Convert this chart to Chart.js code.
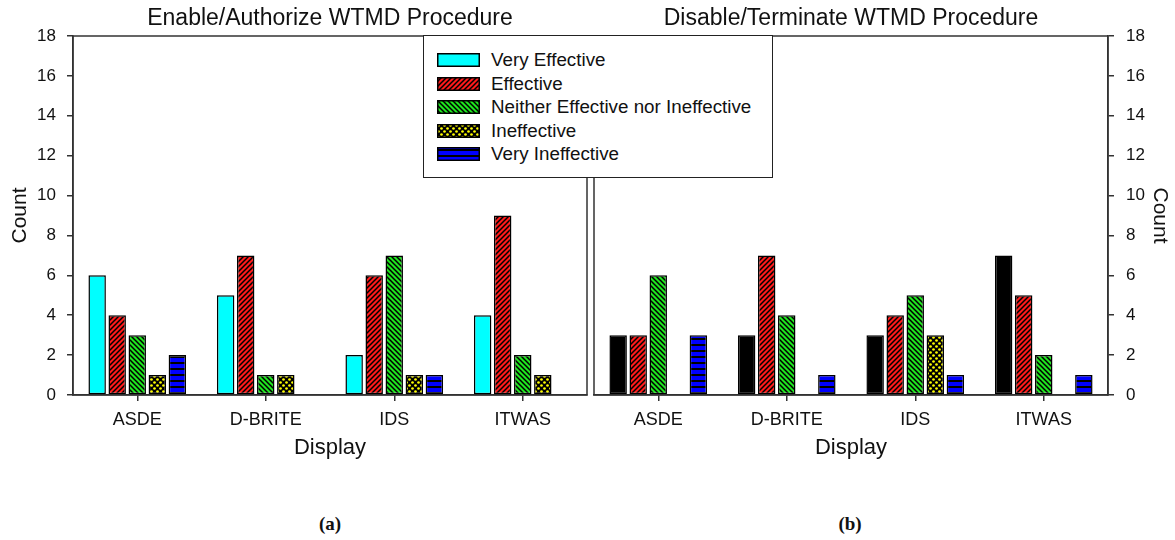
<!DOCTYPE html>
<html>
<head>
<meta charset="utf-8">
<script src="https://cdn.jsdelivr.net/npm/chart.js@4.4.0/dist/chart.umd.min.js"></script>
<style>
  body { margin: 0; background: #fff; width: 1175px; height: 540px; position: relative; overflow: hidden; font-family: Arial, "Liberation Sans", sans-serif; color: #111; }
  #wrapA { position: absolute; left: 0; top: 0; }
  #wrapB { position: absolute; left: 590px; top: 0; }
  .legend { position: absolute; left: 423px; top: 35px; width: 350px; height: 143px; border: 1.5px solid #222; background: #fff; box-sizing: border-box; padding-top: 12px; }
  .legend .row { height: 23.6px; line-height: 23.6px; font-size: 18.8px; white-space: nowrap; position: relative; }
  .legend canvas { position: absolute; left: 13px; top: 5px; }
  .legend span { position: absolute; left: 67px; top: 0; }
  .cap { position: absolute; top: 513px; font-family: "Liberation Serif", "Times New Roman", serif; font-weight: bold; font-size: 19px; width: 60px; text-align: center; }
</style>
</head>
<body>
<div id="wrapA"><canvas id="chartA" width="600" height="470"></canvas></div>
<div id="wrapB"><canvas id="chartB" width="585" height="470"></canvas></div>
<div class="legend" id="legend"></div>
<div class="cap" style="left:300px">(a)</div>
<div class="cap" style="left:820px">(b)</div>
<script>
// categorias e series
const categories = ['ASDE', 'D-BRITE', 'IDS', 'ITWAS'];
const seriesNames = ['Very Effective', 'Effective', 'Neither Effective nor Ineffective', 'Ineffective', 'Very Ineffective'];
const yTicks = [0, 2, 4, 6, 8, 10, 12, 14, 16, 18];

// (a) Enable/Authorize
const enableVeryEffective = [6, 5, 2, 4];
const enableEffective = [4, 7, 6, 9];
const enableNeither = [3, 1, 7, 2];
const enableIneffective = [1, 1, 1, 1];
const enableVeryIneffective = [2, 0, 1, 0];

// (b) Disable/Terminate
const disableVeryEffective = [3, 3, 3, 7];
const disableEffective = [3, 7, 4, 5];
const disableNeither = [6, 4, 5, 2];
const disableIneffective = [0, 0, 3, 0];
const disableVeryIneffective = [3, 1, 1, 1];

function makePattern(kind, bg) {
  if (kind === 'solid') return bg;
  const c = document.createElement('canvas');
  const s = kind === 'dots' || kind === 'horiz' ? 6 : 5;
  c.width = s; c.height = s;
  const g = c.getContext('2d');
  g.fillStyle = bg;
  g.fillRect(0, 0, s, s);
  g.strokeStyle = '#000';
  g.lineWidth = 1.5;
  if (kind === 'up') {
    g.beginPath();
    g.moveTo(-1, s + 1); g.lineTo(s + 1, -1);
    g.moveTo(-1, 1); g.lineTo(1, -1);
    g.moveTo(s - 1, s + 1); g.lineTo(s + 1, s - 1);
    g.stroke();
  } else if (kind === 'down') {
    g.beginPath();
    g.moveTo(-1, -1); g.lineTo(s + 1, s + 1);
    g.moveTo(s - 1, -1); g.lineTo(s + 1, 1);
    g.moveTo(-1, s - 1); g.lineTo(1, s + 1);
    g.stroke();
  } else if (kind === 'horiz') {
    g.lineWidth = 2;
    g.beginPath(); g.moveTo(0, 3); g.lineTo(s, 3); g.stroke();
  } else if (kind === 'dots') {
    g.fillStyle = '#000';
    g.fillRect(0, 0, s, s);
    g.fillStyle = bg;
    [[1.5, 1.5], [4.5, 4.5]].forEach(p => { g.beginPath(); g.arc(p[0], p[1], 1.35, 0, Math.PI * 2); g.fill(); });
  }
  return g.createPattern(c, 'repeat');
}

const fillsA = [
  makePattern('solid', '#00ffff'),
  makePattern('up', '#ff1a1a'),
  makePattern('down', '#1ee61e'),
  makePattern('dots', '#ffff00'),
  makePattern('horiz', '#0000ff')
];
const fillsB = [makePattern('solid', '#000000')].concat(fillsA.slice(1));

function buildDatasets(values, fills) {
  return values.map((vals, i) => ({
    label: seriesNames[i],
    data: vals,
    backgroundColor: fills[i],
    borderColor: '#000',
    borderWidth: 1.5,
    borderSkipped: false,
    categoryPercentage: 0.78,
    barPercentage: 0.87
  }));
}

const framePlugin = {
  id: 'frame',
  afterDatasetsDraw(chart) {
    const { ctx, chartArea: a } = chart;
    ctx.save();
    ctx.strokeStyle = '#333';
    ctx.lineWidth = 1.5;
    ctx.strokeRect(a.left, a.top, a.right - a.left, a.bottom - a.top);
    ctx.restore();
  }
};

function makeOptions(title, side) {
  const left = side === 'left';
  return {
    responsive: false,
    animation: false,
    layout: { padding: left ? { left: 0, right: 13, top: 0, bottom: 0 } : { left: 4, right: 0, top: 0, bottom: 0 } },
    plugins: {
      legend: { display: false },
      tooltip: { enabled: false },
      title: {
        display: true, text: title, fullSize: false, color: '#111',
        font: { size: 23, weight: 'normal', family: 'Arial' },
        padding: { top: 4.8, bottom: 3.6 }
      }
    },
    scales: {
      x: {
        offset: true,
        grid: { offset: false, drawOnChartArea: false, tickLength: 6, color: '#333', lineWidth: 1.5 },
        border: { color: '#333', width: 1.5 },
        ticks: { font: { size: 18, family: 'Arial' }, color: '#111', padding: 8, maxRotation: 0 },
        title: { display: true, text: 'Display', color: '#111', font: { size: 22, family: 'Arial' }, padding: { top: 0, bottom: 9 } },
        afterFit: s => { s.height = 75; }
      },
      y: {
        position: side,
        min: 0, max: 18,
        afterBuildTicks: s => { s.ticks = yTicks.map(v => ({ value: v })); },
        grid: { drawOnChartArea: false, tickLength: 6, color: '#333', lineWidth: 1.5 },
        border: { color: '#333', width: 1.5 },
        ticks: { font: { size: 17, family: 'Arial' }, color: '#111', padding: left ? 11 : 12 },
        title: { display: true, text: 'Count', color: '#111', font: { size: 21, family: 'Arial' }, padding: { top: left ? 8 : 3, bottom: 0 } },
        afterFit: s => { s.width = left ? 73 : 67; }
      }
    }
  };
}

new Chart(document.getElementById('chartA'), {
  type: 'bar',
  data: {
    labels: categories,
    datasets: buildDatasets([enableVeryEffective, enableEffective, enableNeither, enableIneffective, enableVeryIneffective], fillsA)
  },
  options: makeOptions('Enable/Authorize WTMD Procedure', 'left'),
  plugins: [framePlugin]
});

new Chart(document.getElementById('chartB'), {
  type: 'bar',
  data: {
    labels: categories,
    datasets: buildDatasets([disableVeryEffective, disableEffective, disableNeither, disableIneffective, disableVeryIneffective], fillsB)
  },
  options: makeOptions('Disable/Terminate WTMD Procedure', 'right'),
  plugins: [framePlugin]
});

// legenda em html
const legend = document.getElementById('legend');
seriesNames.forEach((name, i) => {
  const row = document.createElement('div');
  row.className = 'row';
  const sw = document.createElement('canvas');
  sw.width = 43; sw.height = 14;
  const g = sw.getContext('2d');
  g.fillStyle = fillsA[i];
  g.fillRect(0, 0, 43, 14);
  g.strokeStyle = '#000';
  g.lineWidth = 1.5;
  g.strokeRect(0.75, 0.75, 41.5, 12.5);
  const label = document.createElement('span');
  label.textContent = name;
  row.appendChild(sw);
  row.appendChild(label);
  legend.appendChild(row);
});
</script>
</body>
</html>
